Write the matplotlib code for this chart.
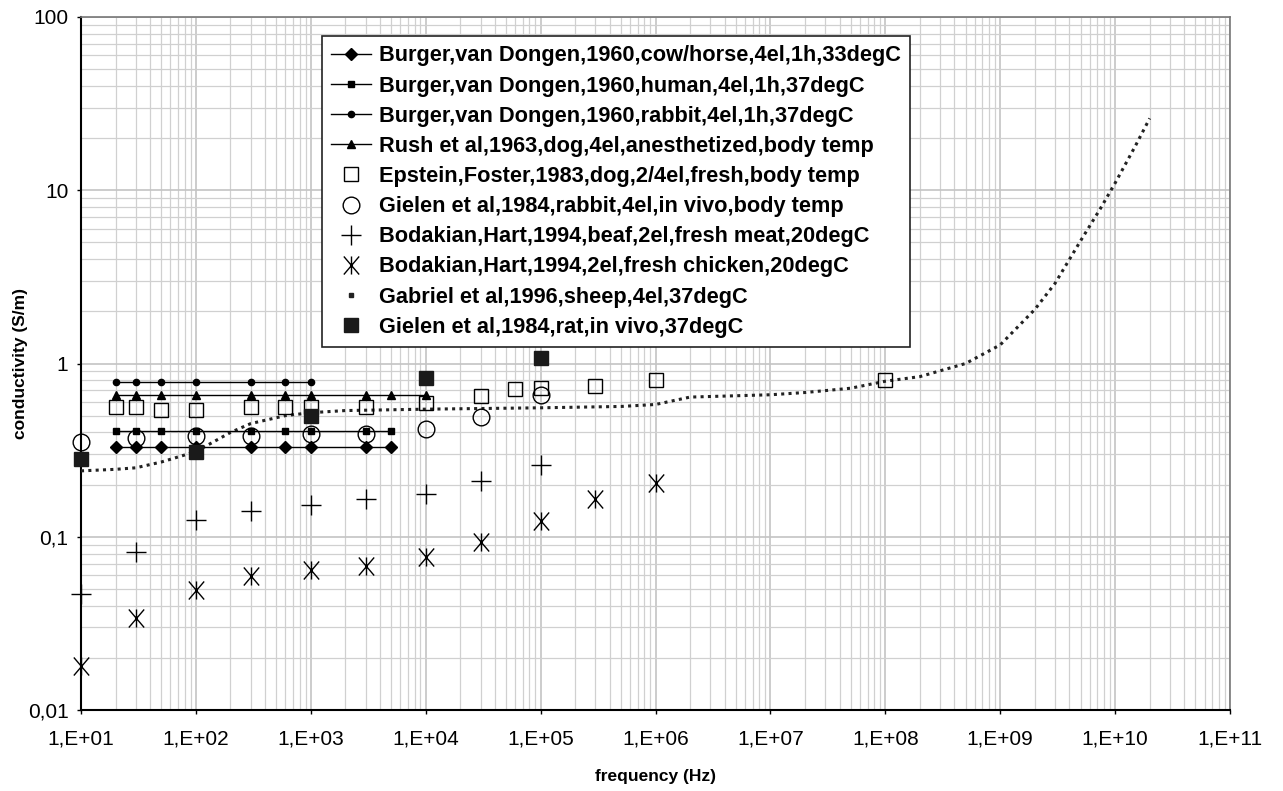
"""
Conductivity vs frequency, several literature data sets
"""

import numpy as np
import matplotlib
matplotlib.use("Agg")
from matplotlib import pyplot as plt
from matplotlib.path import Path
from matplotlib.lines import Line2D
from matplotlib.ticker import LogLocator, FixedLocator, FixedFormatter, NullFormatter

plt.rcParams['font.family'] = ['Liberation Sans', 'DejaVu Sans']

# --------------------------------------------------------------------------------------------------
# Data
# --------------------------------------------------------------------------------------------------

f_burger = [20, 30, 50, 100, 300, 600, 1000, 3000, 5000]
s_cow = [0.33, 0.33, 0.33, 0.33, 0.33, 0.33, 0.33, 0.33, 0.33]
s_human = [0.41, 0.41, 0.41, 0.41, 0.41, 0.41, 0.41, 0.41, 0.41]

f_rabbit = [20, 30, 50, 100, 300, 600, 1000]
s_rabbit = [0.78, 0.78, 0.78, 0.78, 0.78, 0.78, 0.78]

f_rush = [20, 30, 50, 100, 300, 600, 1000, 3000, 5000, 10000]
s_rush = [0.66, 0.66, 0.66, 0.66, 0.66, 0.66, 0.66, 0.66, 0.66, 0.66]

f_epstein = [20, 30, 50, 100, 300, 600, 1000, 3000, 1e4, 3e4, 6e4, 1e5, 3e5, 1e6, 1e8]
s_epstein = [0.56, 0.56, 0.54, 0.54, 0.56, 0.56, 0.56, 0.56, 0.59, 0.65, 0.71, 0.72, 0.74, 0.80, 0.80]

f_gielen_rabbit = [10, 30, 100, 300, 1000, 3000, 1e4, 3e4, 1e5]
s_gielen_rabbit = [0.35, 0.37, 0.38, 0.38, 0.39, 0.39, 0.42, 0.49, 0.66]

f_beef = [10, 30, 100, 300, 1000, 3000, 1e4, 3e4, 1e5]
s_beef = [0.047, 0.082, 0.125, 0.14, 0.152, 0.165, 0.176, 0.21, 0.258]

f_chicken = [10, 30, 100, 300, 1000, 3000, 1e4, 3e4, 1e5, 3e5, 1e6]
s_chicken = [0.018, 0.034, 0.049, 0.059, 0.064, 0.068, 0.076, 0.093, 0.123, 0.165, 0.205]

f_gabriel = [10, 20, 30, 50, 100, 200, 300, 600, 1000, 2000, 1e4, 1e5, 5e5, 1e6, 2e6, 1e7,
             2e7, 5e7, 1e8, 2e8, 5e8, 1e9, 2e9, 3e9, 5e9, 7.5e9, 1e10, 1.5e10, 2e10]
s_gabriel = [0.24, 0.245, 0.25, 0.27, 0.31, 0.40, 0.45, 0.50, 0.52, 0.535, 0.545, 0.555, 0.565,
             0.58, 0.64, 0.66, 0.68, 0.72, 0.79, 0.84, 1.0, 1.28, 2.05, 2.9, 5.1, 7.9, 11, 18, 26]

f_gielen_rat = [10, 100, 1000, 1e4, 1e5]
s_gielen_rat = [0.28, 0.31, 0.50, 0.82, 1.08]

labels = [
    "Burger,van Dongen,1960,cow/horse,4el,1h,33degC",
    "Burger,van Dongen,1960,human,4el,1h,37degC",
    "Burger,van Dongen,1960,rabbit,4el,1h,37degC",
    "Rush et al,1963,dog,4el,anesthetized,body temp",
    "Epstein,Foster,1983,dog,2/4el,fresh,body temp",
    "Gielen et al,1984,rabbit,4el,in vivo,body temp",
    "Bodakian,Hart,1994,beaf,2el,fresh meat,20degC",
    "Bodakian,Hart,1994,2el,fresh chicken,20degC",
    "Gabriel et al,1996,sheep,4el,37degC",
    "Gielen et al,1984,rat,in vivo,37degC",
]

xticks = [10.0 ** k for k in range(1, 12)]
xtick_labels = ["1,E+%02d" % k for k in range(1, 12)]
yticks = [0.01, 0.1, 1, 10, 100]
ytick_labels = ["0,01", "0,1", "1", "10", "100"]

# --------------------------------------------------------------------------------------------------
# Plot
# --------------------------------------------------------------------------------------------------

# X with a vertical bar, like the spreadsheet marker
star = Path([(0, -1), (0, 1), (-0.85, -1), (0.85, 1), (-0.85, 1), (0.85, -1)],
            [Path.MOVETO, Path.LINETO, Path.MOVETO, Path.LINETO, Path.MOVETO, Path.LINETO])

fig = plt.figure(figsize=(12.83, 7.91), dpi=100)
ax = fig.add_axes([81 / 1283, 1 - 710 / 791, 1149 / 1283, 693 / 791])

k = 'black'
ax.plot(f_burger, s_cow, '-', color=k, lw=1, marker='D', ms=6.5, label=labels[0], zorder=4)
ax.plot(f_burger, s_human, '-', color=k, lw=1, marker='s', ms=4.5, label=labels[1], zorder=4)
ax.plot(f_rabbit, s_rabbit, '-', color=k, lw=1, marker='o', ms=4.5, label=labels[2], zorder=4)
ax.plot(f_rush, s_rush, '-', color=k, lw=1, marker='^', ms=5.5, label=labels[3], zorder=4)
ax.plot(f_epstein, s_epstein, ls='none', marker='s', ms=10, mfc='none', mec=k, mew=1,
        label=labels[4], zorder=5)
ax.plot(f_gielen_rabbit, s_gielen_rabbit, ls='none', marker='o', ms=12, mfc='none', mec=k,
        mew=1, label=labels[5], zorder=5, clip_on=False)
ax.plot(f_beef, s_beef, ls='none', marker='+', ms=15, mew=1, color=k, label=labels[6],
        zorder=5, clip_on=False)
ax.plot(f_chicken, s_chicken, ls='none', marker=star, ms=13, mew=1, color=k, mfc='none',
        label=labels[7], zorder=5, clip_on=False)
ax.plot(f_gabriel, s_gabriel, ls=(0, (1, 1.4)), lw=2.2, color='#222222', label=labels[8],
        zorder=3)
ax.plot(f_gielen_rat, s_gielen_rat, ls='none', marker='s', ms=9.5, color='#1a1a1a',
        label=labels[9], zorder=6, clip_on=False)

ax.set_xscale('log')
ax.set_yscale('log')
ax.set_xlim(10, 1e11)
ax.set_ylim(0.01, 100)

ax.xaxis.set_major_locator(FixedLocator(xticks))
ax.xaxis.set_major_formatter(FixedFormatter(xtick_labels))
ax.yaxis.set_major_locator(FixedLocator(yticks))
ax.yaxis.set_major_formatter(FixedFormatter(ytick_labels))
ax.xaxis.set_minor_locator(LogLocator(base=10, subs=np.arange(2, 10), numticks=50))
ax.yaxis.set_minor_locator(LogLocator(base=10, subs=np.arange(2, 10), numticks=50))
ax.xaxis.set_minor_formatter(NullFormatter())
ax.yaxis.set_minor_formatter(NullFormatter())

ax.grid(True, which='major', color='#c4c4c4', lw=1.2)
ax.grid(True, which='minor', color='#d0d0d0', lw=0.9)
ax.set_axisbelow(True)

ax.tick_params(which='major', direction='out', length=3, width=1, labelsize=15)
ax.tick_params(axis='x', pad=11)
ax.tick_params(axis='y', pad=6)
ax.tick_params(which='minor', length=0)

for side in ['left', 'bottom']:
    ax.spines[side].set_color('black')
    ax.spines[side].set_linewidth(1.5)
for side in ['top', 'right']:
    ax.spines[side].set_color('#777777')
    ax.spines[side].set_linewidth(1.2)

ax.set_xlabel('frequency (Hz)', fontsize=12.5, fontweight='bold', labelpad=15)
ax.set_ylabel('conductivity (S/m)', fontsize=12.5, fontweight='bold', labelpad=0)

# Gabriel entry in the legend shows a single dot, like the original
handles, _ = ax.get_legend_handles_labels()
handles[8] = Line2D([], [], ls='none', marker='s', ms=2.2, color='#222222')

leg = ax.legend(handles, labels, loc='upper left', bbox_to_anchor=(0.200, 0.988),
                fancybox=False, edgecolor='#222222', framealpha=1,
                prop={'size': 15.7, 'weight': 'bold'}, handlelength=1.85, handletextpad=0.35,
                labelspacing=0.42, borderpad=0.42)
leg.get_frame().set_linewidth(1.2)

fig.savefig('out.png', dpi=100)
